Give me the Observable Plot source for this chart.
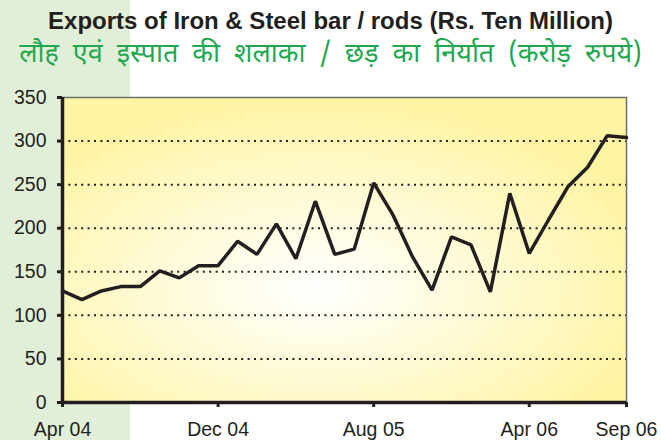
<!DOCTYPE html>
<html>
<head>
<meta charset="utf-8">
<script src="https://cdn.jsdelivr.net/npm/d3@7"></script>
<script src="https://cdn.jsdelivr.net/npm/@observablehq/plot@0.6"></script>
<style>
  html, body { margin: 0; padding: 0; background: #fff; }
  #wrap { position: relative; width: 661px; height: 440px; overflow: hidden; }
  #band { position: absolute; left: 0; top: 0; width: 130px; height: 440px; background: #e2efd8; }
  #title { position: absolute; left: 0; width: 661px; top: 7px; text-align: center;
    font-family: "Liberation Sans Narrow", "Liberation Sans", Arial, sans-serif; font-weight: bold;
    font-size: 24px; color: #231f20; white-space: nowrap; }
  #subtitle { position: absolute; left: 0; width: 661px; top: 38px; text-align: center;
    font-family: "Noto Sans Devanagari", "Lohit Devanagari", "FreeSans", sans-serif;
    font-size: 27px; word-spacing: 7px; color: #1fa84f; white-space: nowrap; }
  #chart { position: absolute; left: 0; top: 0; }
  #chart svg { background: transparent !important; }
</style>
</head>
<body>
<div id="wrap">
  <div id="band"></div>
  <div id="title">Exports of Iron &amp; Steel bar / rods (Rs. Ten Million)</div>
  <div id="subtitle">लौह एवं इस्पात की शलाका / छड़ का निर्यात (करोड़ रुपये)</div>
  <div id="chart"></div>
</div>
<script>
// Monthly exports, Apr 2004 (index 0) to Sep 2006 (index 29)
const monthIndex = d3.range(30);
const exportsValue = [128, 118, 128, 133, 133, 151, 143, 157, 157, 185,
                      170, 205, 165, 231, 170, 176, 252, 215, 167, 129,
                      190, 181, 127, 240, 171, 210, 248, 270, 306, 304];
const tickMonths = [0, 8, 16, 24, 29];
const tickLabels = ["Apr 04", "Dec 04", "Aug 05", "Apr 06", "Sep 06"];
const yTicks = [0, 50, 100, 150, 200, 250, 300, 350];
const gridValues = [50, 100, 150, 200, 250, 300];

const data = monthIndex.map((m, i) => ({m, v: exportsValue[i]}));

const chart = Plot.plot({
  width: 661,
  height: 440,
  marginLeft: 62,
  marginRight: 35,
  marginTop: 97,
  marginBottom: 38,
  style: {fontFamily: "'Liberation Sans', Arial, sans-serif", fontSize: "19.5px", color: "#231f20", background: "transparent"},
  x: {domain: [0, 29], ticks: tickMonths, tickFormat: d => tickLabels[tickMonths.indexOf(d)], label: null},
  y: {domain: [0, 350], ticks: yTicks, label: null},
  marks: [
    Plot.frame({fill: "url(#plotbg)", stroke: "#6d6d6d", strokeWidth: 1.5}),
    Plot.ruleY(gridValues, {stroke: "#231f20", strokeWidth: 2, strokeDasharray: "2,4.4"}),
    Plot.axisY({ticks: yTicks, tickSize: 5, tickPadding: 11, strokeWidth: 3, stroke: "#231f20", fontSize: "19.5px"}),
    Plot.axisX({ticks: tickMonths, tickFormat: d => tickLabels[tickMonths.indexOf(d)], tickSize: 5, tickPadding: 15, strokeWidth: 3, stroke: "#231f20", fontSize: "19.5px"}),
    Plot.ruleX([0], {stroke: "#231f20", strokeWidth: 3.5}),
    Plot.ruleY([0], {stroke: "#231f20", strokeWidth: 3.5}),
    Plot.line(data, {x: "m", y: "v", stroke: "#231f20", strokeWidth: 3.5, strokeLinejoin: "miter"})
  ]
});

const svg = d3.select(chart);
const defs = svg.insert("defs", ":first-child");
const grad = defs.append("radialGradient")
  .attr("id", "plotbg")
  .attr("cx", "0.45").attr("cy", "0.62").attr("r", "0.62")
  .attr("fx", "0.45").attr("fy", "0.62");
grad.append("stop").attr("offset", "0").attr("stop-color", "#ffffff");
grad.append("stop").attr("offset", "0.45").attr("stop-color", "#fffbd8");
grad.append("stop").attr("offset", "1").attr("stop-color", "#fff4a3");

document.getElementById("chart").appendChild(chart);
</script>
</body>
</html>
